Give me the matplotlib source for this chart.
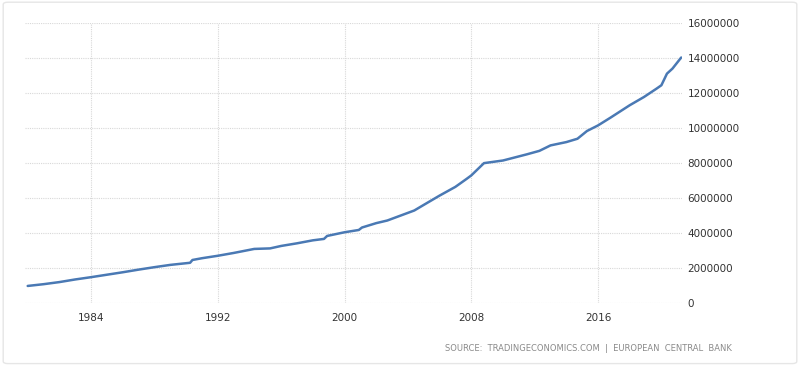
import matplotlib
matplotlib.use("Agg")
import matplotlib.pyplot as plt
from matplotlib.patches import FancyBboxPatch
from matplotlib.ticker import FuncFormatter

# Decimal years and values
years = [1980.0, 1981.0, 1982.0, 1983.0, 1984.0, 1985.0, 1986.0, 1987.0, 1988.0,
         1989.0, 1990.25, 1990.4, 1991.0, 1992.0, 1993.0, 1994.3, 1995.3, 1996.0,
         1997.0, 1998.0, 1998.7, 1998.9, 2000.0, 2000.9, 2001.1, 2002.0, 2002.7,
         2004.4, 2005.0, 2006.0, 2007.0, 2007.7, 2008.0, 2008.8, 2010.0, 2011.5,
         2012.3, 2013.0, 2014.0, 2014.7, 2015.3, 2016.0, 2016.8, 2018.0, 2018.9,
         2019.7, 2020.0, 2020.35, 2020.7, 2021.25]
values = [1.00, 1.10, 1.22, 1.37, 1.50, 1.64, 1.78, 1.93, 2.07,
          2.20, 2.32, 2.48, 2.58, 2.72, 2.88, 3.11, 3.14, 3.28,
          3.43, 3.60, 3.68, 3.85, 4.06, 4.19, 4.33, 4.58, 4.73,
          5.30, 5.62, 6.15, 6.65, 7.10, 7.30, 8.00, 8.15, 8.50,
          8.70, 9.01, 9.20, 9.39, 9.83, 10.15, 10.60, 11.30, 11.77,
          12.25, 12.44, 13.10, 13.39, 14.02]
values = [v * 1e6 for v in values]

x_ticks = [1984, 1992, 2000, 2008, 2016]
y_ticks = [0, 2000000, 4000000, 6000000, 8000000, 10000000, 12000000, 14000000, 16000000]
source_text = "SOURCE:  TRADINGECONOMICS.COM  |  EUROPEAN  CENTRAL  BANK"

fig = plt.figure(figsize=(8, 3.68), dpi=100)
fig.patch.set_facecolor("white")
border = FancyBboxPatch((0.004, 0.012), 0.992, 0.982, boxstyle="round,pad=0,rounding_size=0.006",
                        transform=fig.transFigure, facecolor="none", edgecolor="#e6e6e6",
                        linewidth=1.0, zorder=-5)
fig.patches.append(border)

ax = fig.add_axes([0.03125, 0.1753, 0.82125, 0.7628])
ax.set_facecolor("none")
ax.plot(years, values, color="#4a79b4", linewidth=1.8, solid_joinstyle="round",
        solid_capstyle="round", zorder=3)

ax.set_xlim(1979.83, 2021.30)
ax.set_ylim(0, 16000000)
ax.set_xticks(x_ticks)
ax.set_xticklabels([str(t) for t in x_ticks])
ax.set_yticks(y_ticks)
ax.yaxis.set_major_formatter(FuncFormatter(lambda v, p: f"{int(v)}"))
ax.yaxis.tick_right()
ax.tick_params(axis="both", length=0, labelsize=7.5, labelcolor="#333333")
ax.tick_params(axis="y", pad=4)
ax.tick_params(axis="x", pad=7)
for s in ax.spines.values():
    s.set_visible(False)
ax.grid(True, color="#d8d8d8", linestyle=(0, (1, 1)), linewidth=0.8, zorder=0)

fig.text(0.915, 0.052, source_text, ha="right", va="center", fontsize=6.0, color="#8a8a8a")

fig.savefig("out.png", dpi=100, facecolor="white")
